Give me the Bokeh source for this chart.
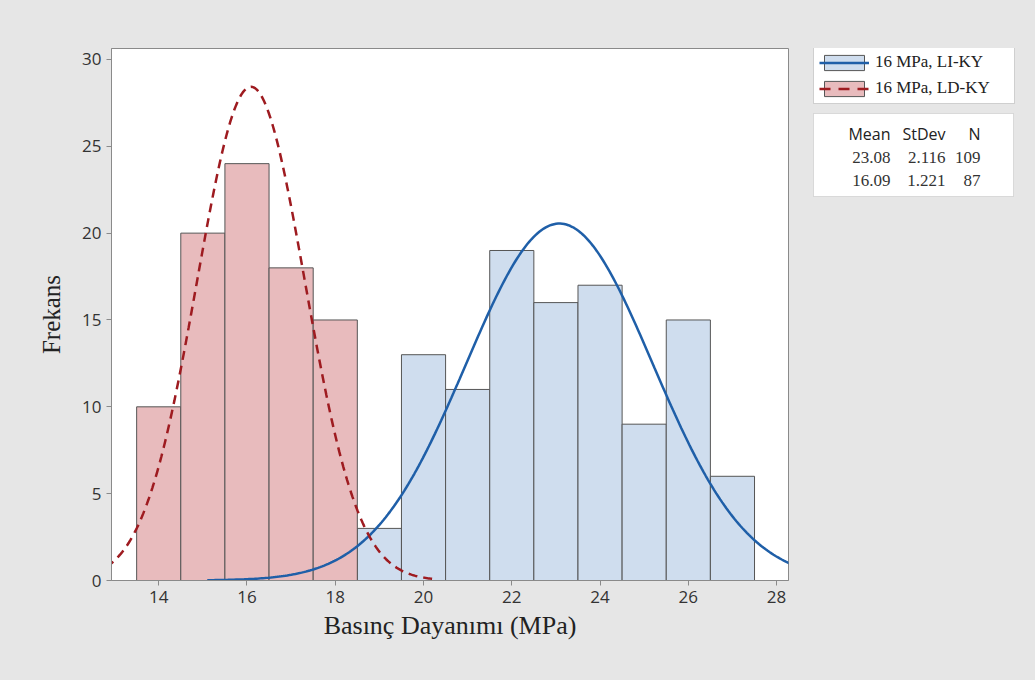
import numpy as np
from bokeh.plotting import figure
from bokeh.layouts import row
from bokeh.models import Legend, LegendItem, Label, BoxAnnotation, FixedTicker, Range1d
from bokeh.embed import file_html
from bokeh.resources import INLINE

# ---- data ----
ld_bins = [14, 15, 16, 17, 18]
ld_counts = [10, 20, 24, 18, 15]
li_bins = [19, 20, 21, 22, 23, 24, 25, 26, 27]
li_counts = [3, 13, 11, 19, 16, 17, 9, 15, 6]
series_names = ["16 MPa, LI-KY", "16 MPa, LD-KY"]
means = [23.08, 16.09]
stdevs = [2.116, 1.221]
ns = [109, 87]
curve_ranges = [(15.1, 29.0), (11.5, 20.3)]
x_ticks = [14, 16, 18, 20, 22, 24, 26, 28]
y_ticks = [0, 5, 10, 15, 20, 25, 30]

BG = "#E6E6E6"
RED_FILL = "#E8BBBD"
BLUE_FILL = "#CFDDEE"
RED_LINE = "#9E1B20"
BLUE_LINE = "#1F5FA8"
EDGE = "#555555"
BOX = "#A0A0A0"

FL, FR, FT, FB = 111, 788, 48, 580
W1, H = 790, 680
W2 = 1035 - W1

p = figure(width=W1, height=H, output_backend="svg", toolbar_location=None,
           x_range=Range1d(12.93, 28.27), y_range=Range1d(0, 30.63),
           min_border_left=FL, min_border_right=W1 - FR,
           min_border_top=FT, min_border_bottom=H - FB)
p.border_fill_color = BG
p.background_fill_color = "white"
p.outline_line_color = "#8A8A8A"
p.xgrid.visible = False
p.ygrid.visible = False

def normal_curve(mu, sd, n, lo, hi):
    xs = np.linspace(lo, hi, 300)
    ys = n * 1.0 / (sd * np.sqrt(2 * np.pi)) * np.exp(-0.5 * ((xs - mu) / sd) ** 2)
    return xs, ys

p.quad(left=[b - 0.5 for b in li_bins], right=[b + 0.5 for b in li_bins],
       bottom=0, top=li_counts, fill_color=BLUE_FILL, line_color=EDGE, line_width=1)
p.quad(left=[b - 0.5 for b in ld_bins], right=[b + 0.5 for b in ld_bins],
       bottom=0, top=ld_counts, fill_color=RED_FILL, line_color=EDGE, line_width=1)

bx, by = normal_curve(means[0], stdevs[0], ns[0], *curve_ranges[0])
p.line(bx, by, line_color=BLUE_LINE, line_width=2.5)
rx, ry = normal_curve(means[1], stdevs[1], ns[1], *curve_ranges[1])
p.line(rx, ry, line_color=RED_LINE, line_width=2.5, line_dash="9 6")

for ax in (p.xaxis[0], p.yaxis[0]):
    ax.axis_line_color = "#8A8A8A"
    ax.major_tick_line_color = "#8A8A8A"
    ax.major_tick_out = 5
    ax.major_tick_in = 0
    ax.minor_tick_line_color = None
    ax.major_label_text_font = "Open Sans"
    ax.major_label_text_font_size = "17px"
    ax.major_label_text_color = "#333333"
    ax.axis_label_text_font = "Liberation Serif"
    ax.axis_label_text_font_style = "normal"
    ax.axis_label_text_color = "#222222"
p.xaxis[0].ticker = FixedTicker(ticks=x_ticks)
p.yaxis[0].ticker = FixedTicker(ticks=y_ticks)
p.xaxis[0].axis_label = "Basınç Dayanımı (MPa)"
p.xaxis[0].axis_label_text_font_size = "26px"
p.xaxis[0].axis_label_standoff = 5
p.yaxis[0].axis_label = "Frekans"
p.yaxis[0].axis_label_text_font_size = "25px"
p.yaxis[0].axis_label_standoff = 14

# ---- side panel: legend + statistics table ----
# frame spans canvas rows FT..FB; data units: x = canvas_x - W1, y = H - canvas_y
p2 = figure(width=W2, height=H, output_backend="svg", toolbar_location=None,
            x_range=Range1d(0, W2), y_range=Range1d(H - FB, H - FT),
            x_axis_location=None, y_axis_location=None,
            min_border_left=0, min_border_right=0,
            min_border_top=FT, min_border_bottom=H - FB)
p2.border_fill_color = BG
p2.background_fill_color = BG
p2.outline_line_color = None
p2.xgrid.visible = False
p2.ygrid.visible = False

def px(cx):
    return cx - W1

def py(cy):
    return H - cy

# legend proxies: one off-screen datum each, only their legend glyphs are seen
off = [-1000]
proxy_q1 = p2.quad(left=off, right=off, top=off, bottom=off, fill_color=BLUE_FILL, line_color=EDGE)
proxy_l1 = p2.line(x=off, y=off, line_color=BLUE_LINE, line_width=2.5)
proxy_q2 = p2.quad(left=off, right=off, top=off, bottom=off, fill_color=RED_FILL, line_color=EDGE)
proxy_l2 = p2.line(x=off, y=off, line_color=RED_LINE, line_width=2.5, line_dash="11 8")

legend = Legend(items=[LegendItem(label=series_names[0], renderers=[proxy_q1, proxy_l1]),
                       LegendItem(label=series_names[1], renderers=[proxy_q2, proxy_l2])],
                location=(813 - W1, FB - 104), margin=0, padding=5, spacing=6,
                glyph_width=50, glyph_height=19, label_height=20, label_width=134,
                label_standoff=6, label_text_font="Liberation Serif",
                label_text_font_size="17px", label_text_color="#222222",
                border_line_color=BOX, background_fill_color="white",
                background_fill_alpha=1.0)
p2.add_layout(legend, "center")

p2.add_layout(BoxAnnotation(left=px(813), right=px(1013), bottom=py(196), top=py(113),
                            fill_color="white", fill_alpha=1.0,
                            line_color=BOX, line_width=1))

header = ["Mean", "StDev", "N"]
col_right = [890, 945, 980]
for txt, xr in zip(header, col_right):
    p2.add_layout(Label(x=px(xr), y=py(133), text=txt, text_align="right",
                        text_baseline="middle", text_font="Open Sans",
                        text_font_size="16px", text_color="#222222"))
rows = [[f"{means[i]:.2f}", f"{stdevs[i]:.3f}", f"{ns[i]}"] for i in range(2)]
row_y = [157, 180]
for r, yy in zip(rows, row_y):
    for txt, xr in zip(r, col_right):
        p2.add_layout(Label(x=px(xr), y=py(yy), text=txt, text_align="right",
                            text_baseline="middle", text_font="Liberation Serif",
                            text_font_size="17px", text_color="#333333"))

layout = row(p, p2, spacing=0, styles={"background-color": BG})
open("out.html", "w").write(file_html(layout, INLINE))
